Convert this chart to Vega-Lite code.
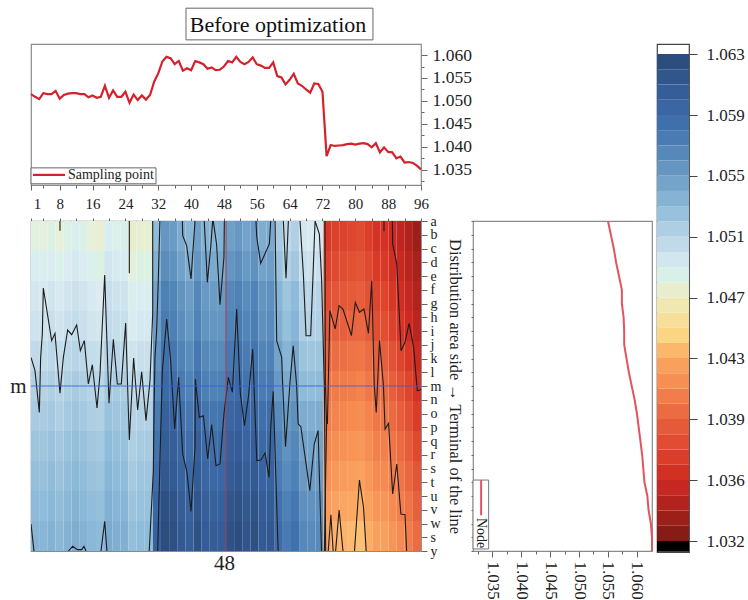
{"$schema":"https://vega.github.io/schema/vega-lite/v6.json","padding":{"left":9,"top":7,"right":0,"bottom":0},"background":"white","config":{"view":{"stroke":"#8a8a8a","strokeWidth":1.2},"font":"Liberation Serif","axis":{"grid":false,"domain":false,"title":null,"labelFont":"Liberation Serif","labelColor":"#222","tickColor":"#666","labelFlush":false,"labelOverlap":false,"labelBound":false}},
"datasets":{
"top":[{"c":1,"v":1.0515},{"c":2,"v":1.0509},{"c":3,"v":1.0504},{"c":4,"v":1.0517},{"c":5,"v":1.0515},{"c":6,"v":1.0515},{"c":7,"v":1.0522},{"c":8,"v":1.0505},{"c":9,"v":1.0513},{"c":10,"v":1.0516},{"c":11,"v":1.0517},{"c":12,"v":1.0517},{"c":13,"v":1.0515},{"c":14,"v":1.0515},{"c":15,"v":1.0508},{"c":16,"v":1.0512},{"c":17,"v":1.0507},{"c":18,"v":1.0509},{"c":19,"v":1.0533},{"c":20,"v":1.0507},{"c":21,"v":1.0523},{"c":22,"v":1.0509},{"c":23,"v":1.0509},{"c":24,"v":1.052},{"c":25,"v":1.0496},{"c":26,"v":1.0514},{"c":27,"v":1.0502},{"c":28,"v":1.0512},{"c":29,"v":1.0503},{"c":30,"v":1.0513},{"c":31,"v":1.0542},{"c":32,"v":1.056},{"c":33,"v":1.0586},{"c":34,"v":1.0596},{"c":35,"v":1.0593},{"c":36,"v":1.058},{"c":37,"v":1.0587},{"c":38,"v":1.0566},{"c":39,"v":1.0571},{"c":40,"v":1.0567},{"c":41,"v":1.0587},{"c":42,"v":1.0584},{"c":43,"v":1.058},{"c":44,"v":1.057},{"c":45,"v":1.0573},{"c":46,"v":1.0567},{"c":47,"v":1.0568},{"c":48,"v":1.0575},{"c":49,"v":1.0587},{"c":50,"v":1.0584},{"c":51,"v":1.0596},{"c":52,"v":1.0585},{"c":53,"v":1.058},{"c":54,"v":1.0585},{"c":55,"v":1.0595},{"c":56,"v":1.058},{"c":57,"v":1.0577},{"c":58,"v":1.0572},{"c":59,"v":1.0572},{"c":60,"v":1.0584},{"c":61,"v":1.0554},{"c":62,"v":1.0551},{"c":63,"v":1.0536},{"c":64,"v":1.0546},{"c":65,"v":1.0559},{"c":66,"v":1.0538},{"c":67,"v":1.0533},{"c":68,"v":1.0525},{"c":69,"v":1.0518},{"c":70,"v":1.0538},{"c":71,"v":1.0537},{"c":72,"v":1.052},{"c":73,"v":1.038},{"c":74,"v":1.0404},{"c":75,"v":1.0402},{"c":76,"v":1.0403},{"c":77,"v":1.0404},{"c":78,"v":1.0406},{"c":79,"v":1.0407},{"c":80,"v":1.0405},{"c":81,"v":1.0407},{"c":82,"v":1.0408},{"c":83,"v":1.0406},{"c":84,"v":1.0399},{"c":85,"v":1.0408},{"c":86,"v":1.0388},{"c":87,"v":1.0399},{"c":88,"v":1.0389},{"c":89,"v":1.0388},{"c":90,"v":1.0375},{"c":91,"v":1.0379},{"c":92,"v":1.0366},{"c":93,"v":1.0367},{"c":94,"v":1.0365},{"c":95,"v":1.0359},{"c":96,"v":1.0351}],
"node":[{"r":0,"v":1.055},{"r":1,"v":1.0555},{"r":2,"v":1.056},{"r":3,"v":1.0564},{"r":4,"v":1.0569},{"r":5,"v":1.0574},{"r":6,"v":1.0574},{"r":7,"v":1.0577},{"r":8,"v":1.0578},{"r":9,"v":1.0578},{"r":10,"v":1.0582},{"r":11,"v":1.0586},{"r":12,"v":1.0591},{"r":13,"v":1.0596},{"r":14,"v":1.06},{"r":15,"v":1.0603},{"r":16,"v":1.0606},{"r":17,"v":1.0609},{"r":18,"v":1.0611},{"r":19,"v":1.0613},{"r":20,"v":1.0618},{"r":21,"v":1.062},{"r":22,"v":1.0624},{"r":23,"v":1.0626},{"r":24,"v":1.0626}],
"bar":[{"lo":1.032,"hi":1.033,"v":1.0325},{"lo":1.033,"hi":1.034,"v":1.0335},{"lo":1.034,"hi":1.035,"v":1.0345},{"lo":1.035,"hi":1.036,"v":1.0355},{"lo":1.036,"hi":1.03675,"v":1.03638},{"lo":1.03675,"hi":1.0375,"v":1.03713},{"lo":1.0375,"hi":1.03825,"v":1.03788},{"lo":1.03825,"hi":1.039,"v":1.03863},{"lo":1.039,"hi":1.04,"v":1.0395},{"lo":1.04,"hi":1.041,"v":1.0405},{"lo":1.041,"hi":1.042,"v":1.0415},{"lo":1.042,"hi":1.043,"v":1.0425},{"lo":1.043,"hi":1.044,"v":1.0435},{"lo":1.044,"hi":1.045,"v":1.0445},{"lo":1.045,"hi":1.046,"v":1.0455},{"lo":1.046,"hi":1.047,"v":1.0465},{"lo":1.047,"hi":1.048,"v":1.0475},{"lo":1.048,"hi":1.049,"v":1.0485},{"lo":1.049,"hi":1.05,"v":1.0495},{"lo":1.05,"hi":1.051,"v":1.0505},{"lo":1.051,"hi":1.052,"v":1.0515},{"lo":1.052,"hi":1.053,"v":1.0525},{"lo":1.053,"hi":1.054,"v":1.0535},{"lo":1.054,"hi":1.055,"v":1.0545},{"lo":1.055,"hi":1.056,"v":1.0555},{"lo":1.056,"hi":1.057,"v":1.0565},{"lo":1.057,"hi":1.058,"v":1.0575},{"lo":1.058,"hi":1.059,"v":1.0585},{"lo":1.059,"hi":1.06,"v":1.0595},{"lo":1.06,"hi":1.061,"v":1.0605},{"lo":1.061,"hi":1.062,"v":1.0615},{"lo":1.062,"hi":1.063,"v":1.0625}],
"contour":[
{"id":"a","c":1,"r":9.92},{"id":"a","c":1.97,"r":10.88},{"id":"a","c":3.03,"r":13.92},{"id":"a","c":3.35,"r":9.92},{"id":"a","c":3.76,"r":8.22},{"id":"a","c":4,"r":4.87},{"id":"a","c":6.03,"r":8.7},{"id":"a","c":6.84,"r":8.17},{"id":"a","c":8.06,"r":12.53},{"id":"a","c":8.88,"r":9.92},{"id":"a","c":9.93,"r":7.93},{"id":"a","c":10.91,"r":8.27},{"id":"a","c":12.12,"r":7.56},{"id":"a","c":13.02,"r":9.43},{"id":"a","c":13.99,"r":8.7},{"id":"a","c":14.97,"r":11.85},{"id":"a","c":15.94,"r":10.45},{"id":"a","c":17.08,"r":13.6},{"id":"a","c":17.81,"r":11.13},{"id":"a","c":18.95,"r":3.93},{"id":"a","c":20,"r":13.26},{"id":"a","c":21.06,"r":8.61},{"id":"a","c":22.03,"r":11.85},{"id":"a","c":23,"r":11.85},{"id":"a","c":24.06,"r":7.42},{"id":"a","c":24.95,"r":15.93},{"id":"a","c":26,"r":9.96},{"id":"a","c":26.98,"r":13.75},{"id":"a","c":27.96,"r":10.96},{"id":"a","c":29.01,"r":14.52},{"id":"a","c":29.99,"r":11.61},{"id":"a","c":30.64,"r":6.76},{"id":"a","c":30.64,"r":0},
{"id":"b","c":32.4,"r":0},{"id":"b","c":32,"r":4.34},{"id":"b","c":31.6,"r":7.98},{"id":"b","c":31.2,"r":9.92},{"id":"b","c":31,"r":13.31},{"id":"b","c":30.8,"r":18.16},{"id":"b","c":29.8,"r":24},
{"id":"c","c":31.86,"r":24},{"id":"c","c":32.43,"r":17.19},{"id":"c","c":33,"r":10.88},{"id":"c","c":34.05,"r":7.13},{"id":"c","c":35.02,"r":10.16},{"id":"c","c":36,"r":15.13},{"id":"c","c":36.97,"r":11.37},{"id":"c","c":37.95,"r":16.95},{"id":"c","c":39,"r":18.28},{"id":"c","c":39.98,"r":21.12},{"id":"c","c":40.95,"r":16.46},{"id":"c","c":41.03,"r":11.49},{"id":"c","c":42,"r":14.28},{"id":"c","c":43,"r":14.16},{"id":"c","c":44.04,"r":17.31},{"id":"c","c":45,"r":14.81},{"id":"c","c":46.07,"r":17.8},{"id":"c","c":47.04,"r":17.67},{"id":"c","c":48,"r":14.04},{"id":"c","c":49.07,"r":11.37},{"id":"c","c":50.05,"r":12.46},{"id":"c","c":51.1,"r":6.4},{"id":"c","c":52,"r":12.58},{"id":"c","c":53,"r":14.89},{"id":"c","c":54,"r":12.7},{"id":"c","c":55,"r":9.31},{"id":"c","c":56,"r":17.43},{"id":"c","c":57,"r":17.38},{"id":"c","c":58,"r":16.87},{"id":"c","c":59,"r":18.64},{"id":"c","c":59.4,"r":15},{"id":"c","c":60,"r":12.39},{"id":"c","c":61.2,"r":24},
{"id":"d","c":37.87,"r":0},{"id":"d","c":37.95,"r":1.07},{"id":"d","c":38.92,"r":1.79},{"id":"d","c":39.98,"r":4.22},{"id":"d","c":40.95,"r":0},
{"id":"e","c":43.2,"r":0},{"id":"e","c":43.96,"r":4.46},{"id":"e","c":44.77,"r":1.92},{"id":"e","c":45.25,"r":0},
{"id":"f","c":45.4,"r":0},{"id":"f","c":46.2,"r":1.67},{"id":"f","c":47.04,"r":6.08},{"id":"f","c":48,"r":2.64},{"id":"f","c":48.1,"r":0},
{"id":"g","c":55.8,"r":0},{"id":"g","c":56,"r":1.19},{"id":"g","c":56.95,"r":3.08},{"id":"g","c":59.06,"r":1.67},{"id":"g","c":59.4,"r":0},
{"id":"h","c":62.47,"r":0},{"id":"h","c":63.12,"r":4.17},{"id":"h","c":63.69,"r":0},
{"id":"i","c":66.53,"r":0},{"id":"i","c":67.34,"r":3.85},{"id":"i","c":68,"r":8.34},{"id":"i","c":69.13,"r":8.34},{"id":"i","c":70.2,"r":0},{"id":"i","c":71.24,"r":0.95},{"id":"i","c":71.8,"r":4.34},{"id":"i","c":72.46,"r":12.1},{"id":"i","c":72.78,"r":24},
{"id":"j","c":72.62,"r":0},{"id":"j","c":72.7,"r":11.6},{"id":"j","c":73,"r":14.76},{"id":"j","c":72.46,"r":24},
{"id":"k","c":60.45,"r":0},{"id":"k","c":60.85,"r":8.7},{"id":"k","c":62.07,"r":9.92},{"id":"k","c":62.3,"r":11.85},{"id":"k","c":63,"r":16.41},{"id":"k","c":64.06,"r":11.85},{"id":"k","c":64.87,"r":9.07},{"id":"k","c":65.68,"r":11.85},{"id":"k","c":66.08,"r":14.76},{"id":"k","c":66.73,"r":14.96},{"id":"k","c":68.92,"r":19.61},{"id":"k","c":70,"r":16.22},{"id":"k","c":70.93,"r":15.24},{"id":"k","c":71.77,"r":24},
{"id":"l","c":73.2,"r":14.76},{"id":"l","c":73.8,"r":6.52},{"id":"l","c":75.1,"r":7.85},{"id":"l","c":76.05,"r":6.16},{"id":"l","c":77,"r":6.4},{"id":"l","c":79.05,"r":8.34},{"id":"l","c":80,"r":5.92},{"id":"l","c":81,"r":6.64},{"id":"l","c":82.1,"r":6.4},{"id":"l","c":83.2,"r":8.17},{"id":"l","c":84,"r":4.34},{"id":"l","c":84.6,"r":11.85},{"id":"l","c":85.1,"r":13.92},{"id":"l","c":85.9,"r":8.7},{"id":"l","c":86.85,"r":11.98},{"id":"l","c":87.25,"r":15.13},{"id":"l","c":88.1,"r":14.71},{"id":"l","c":89.1,"r":19.85},{"id":"l","c":90.1,"r":17.67},{"id":"l","c":91.1,"r":21.31},{"id":"l","c":92.1,"r":21.36},{"id":"l","c":92.5,"r":24},
{"id":"m","c":89.02,"r":0},{"id":"m","c":89.1,"r":1.67},{"id":"m","c":90.1,"r":3.13},{"id":"m","c":91.15,"r":9.43},{"id":"m","c":92.1,"r":8.82},{"id":"m","c":93.1,"r":7.44},{"id":"m","c":94.2,"r":9.19},{"id":"m","c":95.1,"r":12.34},{"id":"m","c":95.8,"r":12.29},{"id":"m","c":96,"r":12.2},
{"id":"n","c":86.98,"r":0},{"id":"n","c":86.98,"r":0.75},
{"id":"o","c":73.4,"r":24},{"id":"o","c":74.05,"r":21.36},{"id":"o","c":74.6,"r":24},
{"id":"p","c":75.2,"r":24},{"id":"p","c":76.05,"r":21.02},{"id":"p","c":77,"r":24},
{"id":"q","c":79.8,"r":24},{"id":"q","c":81,"r":18.84},{"id":"q","c":82,"r":20.82},{"id":"q","c":82.65,"r":24},
{"id":"s","c":8.06,"r":0},{"id":"s","c":8.06,"r":0.7},
{"id":"t","c":24.95,"r":0},{"id":"t","c":24.95,"r":3.8},
{"id":"u","c":1,"r":22.04},{"id":"u","c":1.73,"r":24},
{"id":"v","c":10.1,"r":24},{"id":"v","c":11.15,"r":23.66},{"id":"v","c":12.29,"r":23.9},{"id":"v","c":13.34,"r":23.9},{"id":"v","c":13.9,"r":23.66},{"id":"v","c":14.4,"r":24},
{"id":"w","c":18.05,"r":24},{"id":"w","c":18.95,"r":21.84},{"id":"w","c":19.5,"r":24}],
"heat":[
{"c":1,"r":0,"v":1.0482},{"c":1,"r":1,"v":1.0488},{"c":1,"r":2,"v":1.0494},{"c":1,"r":3,"v":1.0498},{"c":1,"r":4,"v":1.0505},{"c":1,"r":5,"v":1.0512},{"c":1,"r":6,"v":1.0517},{"c":1,"r":7,"v":1.0522},{"c":1,"r":8,"v":1.0526},{"c":1,"r":9,"v":1.053},{"c":1,"r":10,"v":1.0534},
{"c":2,"r":0,"v":1.0481},{"c":2,"r":1,"v":1.0487},{"c":2,"r":2,"v":1.0493},{"c":2,"r":3,"v":1.0497},{"c":2,"r":4,"v":1.0504},{"c":2,"r":5,"v":1.0511},{"c":2,"r":6,"v":1.0516},{"c":2,"r":7,"v":1.0521},{"c":2,"r":8,"v":1.0525},{"c":2,"r":9,"v":1.0529},{"c":2,"r":10,"v":1.0533},
{"c":3,"r":0,"v":1.0484},{"c":3,"r":1,"v":1.049},{"c":3,"r":2,"v":1.0496},{"c":3,"r":3,"v":1.05},{"c":3,"r":4,"v":1.0507},{"c":3,"r":5,"v":1.0514},{"c":3,"r":6,"v":1.0519},{"c":3,"r":7,"v":1.0524},{"c":3,"r":8,"v":1.0528},{"c":3,"r":9,"v":1.0532},{"c":3,"r":10,"v":1.0536},
{"c":4,"r":0,"v":1.048},{"c":4,"r":1,"v":1.0486},{"c":4,"r":2,"v":1.0492},{"c":4,"r":3,"v":1.0496},{"c":4,"r":4,"v":1.0503},{"c":4,"r":5,"v":1.051},{"c":4,"r":6,"v":1.0515},{"c":4,"r":7,"v":1.052},{"c":4,"r":8,"v":1.0524},{"c":4,"r":9,"v":1.0528},{"c":4,"r":10,"v":1.0532},
{"c":5,"r":0,"v":1.0484},{"c":5,"r":1,"v":1.049},{"c":5,"r":2,"v":1.0496},{"c":5,"r":3,"v":1.05},{"c":5,"r":4,"v":1.0507},{"c":5,"r":5,"v":1.0514},{"c":5,"r":6,"v":1.0519},{"c":5,"r":7,"v":1.0524},{"c":5,"r":8,"v":1.0528},{"c":5,"r":9,"v":1.0532},{"c":5,"r":10,"v":1.0536},
{"c":6,"r":0,"v":1.0487},{"c":6,"r":1,"v":1.0493},{"c":6,"r":2,"v":1.0499},{"c":6,"r":3,"v":1.0503},{"c":6,"r":4,"v":1.051},{"c":6,"r":5,"v":1.0517},{"c":6,"r":6,"v":1.0522},{"c":6,"r":7,"v":1.0527},{"c":6,"r":8,"v":1.0531},{"c":6,"r":9,"v":1.0535},{"c":6,"r":10,"v":1.0539},
{"c":7,"r":0,"v":1.0484},{"c":7,"r":1,"v":1.049},{"c":7,"r":2,"v":1.0496},{"c":7,"r":3,"v":1.05},{"c":7,"r":4,"v":1.0507},{"c":7,"r":5,"v":1.0514},{"c":7,"r":6,"v":1.0519},{"c":7,"r":7,"v":1.0524},{"c":7,"r":8,"v":1.0528},{"c":7,"r":9,"v":1.0532},{"c":7,"r":10,"v":1.0536},
{"c":8,"r":0,"v":1.048},{"c":8,"r":1,"v":1.0486},{"c":8,"r":2,"v":1.0492},{"c":8,"r":3,"v":1.0496},{"c":8,"r":4,"v":1.0503},{"c":8,"r":5,"v":1.051},{"c":8,"r":6,"v":1.0515},{"c":8,"r":7,"v":1.052},{"c":8,"r":8,"v":1.0524},{"c":8,"r":9,"v":1.0528},{"c":8,"r":10,"v":1.0532},
{"c":9,"r":0,"v":1.0478},{"c":9,"r":1,"v":1.0484},{"c":9,"r":2,"v":1.049},{"c":9,"r":3,"v":1.0494},{"c":9,"r":4,"v":1.0501},{"c":9,"r":5,"v":1.0508},{"c":9,"r":6,"v":1.0513},{"c":9,"r":7,"v":1.0518},{"c":9,"r":8,"v":1.0522},{"c":9,"r":9,"v":1.0526},{"c":9,"r":10,"v":1.053},
{"c":10,"r":0,"v":1.0489},{"c":10,"r":1,"v":1.0495},{"c":10,"r":2,"v":1.0501},{"c":10,"r":3,"v":1.0505},{"c":10,"r":4,"v":1.0512},{"c":10,"r":5,"v":1.0519},{"c":10,"r":6,"v":1.0524},{"c":10,"r":7,"v":1.0529},{"c":10,"r":8,"v":1.0533},{"c":10,"r":9,"v":1.0537},{"c":10,"r":10,"v":1.0541},
{"c":11,"r":0,"v":1.0486},{"c":11,"r":1,"v":1.0492},{"c":11,"r":2,"v":1.0498},{"c":11,"r":3,"v":1.0502},{"c":11,"r":4,"v":1.0509},{"c":11,"r":5,"v":1.0516},{"c":11,"r":6,"v":1.0521},{"c":11,"r":7,"v":1.0526},{"c":11,"r":8,"v":1.053},{"c":11,"r":9,"v":1.0534},{"c":11,"r":10,"v":1.0538},
{"c":12,"r":0,"v":1.0485},{"c":12,"r":1,"v":1.0491},{"c":12,"r":2,"v":1.0497},{"c":12,"r":3,"v":1.0501},{"c":12,"r":4,"v":1.0508},{"c":12,"r":5,"v":1.0515},{"c":12,"r":6,"v":1.052},{"c":12,"r":7,"v":1.0525},{"c":12,"r":8,"v":1.0529},{"c":12,"r":9,"v":1.0533},{"c":12,"r":10,"v":1.0537},
{"c":13,"r":0,"v":1.0475},{"c":13,"r":1,"v":1.0481},{"c":13,"r":2,"v":1.0487},{"c":13,"r":3,"v":1.0491},{"c":13,"r":4,"v":1.0498},{"c":13,"r":5,"v":1.0505},{"c":13,"r":6,"v":1.051},{"c":13,"r":7,"v":1.0515},{"c":13,"r":8,"v":1.0519},{"c":13,"r":9,"v":1.0523},{"c":13,"r":10,"v":1.0527},
{"c":14,"r":0,"v":1.0477},{"c":14,"r":1,"v":1.0483},{"c":14,"r":2,"v":1.0489},{"c":14,"r":3,"v":1.0493},{"c":14,"r":4,"v":1.05},{"c":14,"r":5,"v":1.0507},{"c":14,"r":6,"v":1.0512},{"c":14,"r":7,"v":1.0517},{"c":14,"r":8,"v":1.0521},{"c":14,"r":9,"v":1.0525},{"c":14,"r":10,"v":1.0529},
{"c":15,"r":0,"v":1.0477},{"c":15,"r":1,"v":1.0483},{"c":15,"r":2,"v":1.0489},{"c":15,"r":3,"v":1.0493},{"c":15,"r":4,"v":1.05},{"c":15,"r":5,"v":1.0507},{"c":15,"r":6,"v":1.0512},{"c":15,"r":7,"v":1.0517},{"c":15,"r":8,"v":1.0521},{"c":15,"r":9,"v":1.0525},{"c":15,"r":10,"v":1.0529},
{"c":16,"r":0,"v":1.0529},{"c":16,"r":1,"v":1.0536},{"c":16,"r":2,"v":1.0546},{"c":16,"r":3,"v":1.055},{"c":16,"r":4,"v":1.0558},{"c":16,"r":5,"v":1.0565},{"c":16,"r":6,"v":1.0575},{"c":16,"r":7,"v":1.0582},{"c":16,"r":8,"v":1.0587},{"c":16,"r":9,"v":1.0595},{"c":16,"r":10,"v":1.06},
{"c":17,"r":0,"v":1.0555},{"c":17,"r":1,"v":1.0562},{"c":17,"r":2,"v":1.0572},{"c":17,"r":3,"v":1.0576},{"c":17,"r":4,"v":1.0584},{"c":17,"r":5,"v":1.0591},{"c":17,"r":6,"v":1.0601},{"c":17,"r":7,"v":1.0608},{"c":17,"r":8,"v":1.0613},{"c":17,"r":9,"v":1.0621},{"c":17,"r":10,"v":1.0626},
{"c":18,"r":0,"v":1.0551},{"c":18,"r":1,"v":1.0558},{"c":18,"r":2,"v":1.0568},{"c":18,"r":3,"v":1.0572},{"c":18,"r":4,"v":1.058},{"c":18,"r":5,"v":1.0587},{"c":18,"r":6,"v":1.0597},{"c":18,"r":7,"v":1.0604},{"c":18,"r":8,"v":1.0609},{"c":18,"r":9,"v":1.0617},{"c":18,"r":10,"v":1.0622},
{"c":19,"r":0,"v":1.054},{"c":19,"r":1,"v":1.0547},{"c":19,"r":2,"v":1.0557},{"c":19,"r":3,"v":1.0561},{"c":19,"r":4,"v":1.0569},{"c":19,"r":5,"v":1.0576},{"c":19,"r":6,"v":1.0586},{"c":19,"r":7,"v":1.0593},{"c":19,"r":8,"v":1.0598},{"c":19,"r":9,"v":1.0606},{"c":19,"r":10,"v":1.0611},
{"c":20,"r":0,"v":1.0533},{"c":20,"r":1,"v":1.054},{"c":20,"r":2,"v":1.055},{"c":20,"r":3,"v":1.0554},{"c":20,"r":4,"v":1.0562},{"c":20,"r":5,"v":1.0569},{"c":20,"r":6,"v":1.0579},{"c":20,"r":7,"v":1.0586},{"c":20,"r":8,"v":1.0591},{"c":20,"r":9,"v":1.0599},{"c":20,"r":10,"v":1.0604},
{"c":21,"r":0,"v":1.0549},{"c":21,"r":1,"v":1.0556},{"c":21,"r":2,"v":1.0566},{"c":21,"r":3,"v":1.057},{"c":21,"r":4,"v":1.0578},{"c":21,"r":5,"v":1.0585},{"c":21,"r":6,"v":1.0595},{"c":21,"r":7,"v":1.0602},{"c":21,"r":8,"v":1.0607},{"c":21,"r":9,"v":1.0615},{"c":21,"r":10,"v":1.062},
{"c":22,"r":0,"v":1.0536},{"c":22,"r":1,"v":1.0543},{"c":22,"r":2,"v":1.0553},{"c":22,"r":3,"v":1.0557},{"c":22,"r":4,"v":1.0565},{"c":22,"r":5,"v":1.0572},{"c":22,"r":6,"v":1.0582},{"c":22,"r":7,"v":1.0589},{"c":22,"r":8,"v":1.0594},{"c":22,"r":9,"v":1.0602},{"c":22,"r":10,"v":1.0607},
{"c":23,"r":0,"v":1.0534},{"c":23,"r":1,"v":1.0541},{"c":23,"r":2,"v":1.0551},{"c":23,"r":3,"v":1.0555},{"c":23,"r":4,"v":1.0563},{"c":23,"r":5,"v":1.057},{"c":23,"r":6,"v":1.058},{"c":23,"r":7,"v":1.0587},{"c":23,"r":8,"v":1.0592},{"c":23,"r":9,"v":1.06},{"c":23,"r":10,"v":1.0605},
{"c":24,"r":0,"v":1.0535},{"c":24,"r":1,"v":1.0542},{"c":24,"r":2,"v":1.0552},{"c":24,"r":3,"v":1.0556},{"c":24,"r":4,"v":1.0564},{"c":24,"r":5,"v":1.0571},{"c":24,"r":6,"v":1.0581},{"c":24,"r":7,"v":1.0588},{"c":24,"r":8,"v":1.0593},{"c":24,"r":9,"v":1.0601},{"c":24,"r":10,"v":1.0606},
{"c":25,"r":0,"v":1.0549},{"c":25,"r":1,"v":1.0556},{"c":25,"r":2,"v":1.0566},{"c":25,"r":3,"v":1.057},{"c":25,"r":4,"v":1.0578},{"c":25,"r":5,"v":1.0585},{"c":25,"r":6,"v":1.0595},{"c":25,"r":7,"v":1.0602},{"c":25,"r":8,"v":1.0607},{"c":25,"r":9,"v":1.0615},{"c":25,"r":10,"v":1.062},
{"c":26,"r":0,"v":1.0554},{"c":26,"r":1,"v":1.0561},{"c":26,"r":2,"v":1.0571},{"c":26,"r":3,"v":1.0575},{"c":26,"r":4,"v":1.0583},{"c":26,"r":5,"v":1.059},{"c":26,"r":6,"v":1.06},{"c":26,"r":7,"v":1.0607},{"c":26,"r":8,"v":1.0612},{"c":26,"r":9,"v":1.062},{"c":26,"r":10,"v":1.0625},
{"c":27,"r":0,"v":1.0546},{"c":27,"r":1,"v":1.0553},{"c":27,"r":2,"v":1.0563},{"c":27,"r":3,"v":1.0567},{"c":27,"r":4,"v":1.0575},{"c":27,"r":5,"v":1.0582},{"c":27,"r":6,"v":1.0592},{"c":27,"r":7,"v":1.0599},{"c":27,"r":8,"v":1.0604},{"c":27,"r":9,"v":1.0612},{"c":27,"r":10,"v":1.0617},
{"c":28,"r":0,"v":1.0552},{"c":28,"r":1,"v":1.0559},{"c":28,"r":2,"v":1.0569},{"c":28,"r":3,"v":1.0573},{"c":28,"r":4,"v":1.0581},{"c":28,"r":5,"v":1.0588},{"c":28,"r":6,"v":1.0598},{"c":28,"r":7,"v":1.0605},{"c":28,"r":8,"v":1.061},{"c":28,"r":9,"v":1.0618},{"c":28,"r":10,"v":1.0623},
{"c":29,"r":0,"v":1.0539},{"c":29,"r":1,"v":1.0546},{"c":29,"r":2,"v":1.0556},{"c":29,"r":3,"v":1.056},{"c":29,"r":4,"v":1.0568},{"c":29,"r":5,"v":1.0575},{"c":29,"r":6,"v":1.0585},{"c":29,"r":7,"v":1.0592},{"c":29,"r":8,"v":1.0597},{"c":29,"r":9,"v":1.0605},{"c":29,"r":10,"v":1.061},
{"c":30,"r":0,"v":1.0542},{"c":30,"r":1,"v":1.0549},{"c":30,"r":2,"v":1.0559},{"c":30,"r":3,"v":1.0563},{"c":30,"r":4,"v":1.0571},{"c":30,"r":5,"v":1.0578},{"c":30,"r":6,"v":1.0588},{"c":30,"r":7,"v":1.0595},{"c":30,"r":8,"v":1.06},{"c":30,"r":9,"v":1.0608},{"c":30,"r":10,"v":1.0613},
{"c":31,"r":0,"v":1.0517},{"c":31,"r":1,"v":1.0524},{"c":31,"r":2,"v":1.0534},{"c":31,"r":3,"v":1.0538},{"c":31,"r":4,"v":1.0546},{"c":31,"r":5,"v":1.0553},{"c":31,"r":6,"v":1.0563},{"c":31,"r":7,"v":1.057},{"c":31,"r":8,"v":1.0575},{"c":31,"r":9,"v":1.0583},{"c":31,"r":10,"v":1.0588},
{"c":32,"r":0,"v":1.0505},{"c":32,"r":1,"v":1.0512},{"c":32,"r":2,"v":1.0522},{"c":32,"r":3,"v":1.0526},{"c":32,"r":4,"v":1.0534},{"c":32,"r":5,"v":1.0541},{"c":32,"r":6,"v":1.0551},{"c":32,"r":7,"v":1.0558},{"c":32,"r":8,"v":1.0563},{"c":32,"r":9,"v":1.0571},{"c":32,"r":10,"v":1.0576},
{"c":33,"r":0,"v":1.0513},{"c":33,"r":1,"v":1.052},{"c":33,"r":2,"v":1.053},{"c":33,"r":3,"v":1.0534},{"c":33,"r":4,"v":1.0542},{"c":33,"r":5,"v":1.0549},{"c":33,"r":6,"v":1.0559},{"c":33,"r":7,"v":1.0566},{"c":33,"r":8,"v":1.0571},{"c":33,"r":9,"v":1.0579},{"c":33,"r":10,"v":1.0584},
{"c":34,"r":0,"v":1.0494},{"c":34,"r":1,"v":1.0501},{"c":34,"r":2,"v":1.0511},{"c":34,"r":3,"v":1.0515},{"c":34,"r":4,"v":1.0523},{"c":34,"r":5,"v":1.053},{"c":34,"r":6,"v":1.054},{"c":34,"r":7,"v":1.0547},{"c":34,"r":8,"v":1.0552},{"c":34,"r":9,"v":1.056},{"c":34,"r":10,"v":1.0565},
{"c":35,"r":0,"v":1.0492},{"c":35,"r":1,"v":1.0499},{"c":35,"r":2,"v":1.0509},{"c":35,"r":3,"v":1.0513},{"c":35,"r":4,"v":1.0521},{"c":35,"r":5,"v":1.0528},{"c":35,"r":6,"v":1.0538},{"c":35,"r":7,"v":1.0545},{"c":35,"r":8,"v":1.055},{"c":35,"r":9,"v":1.0558},{"c":35,"r":10,"v":1.0563},
{"c":36,"r":0,"v":1.0493},{"c":36,"r":1,"v":1.05},{"c":36,"r":2,"v":1.051},{"c":36,"r":3,"v":1.0514},{"c":36,"r":4,"v":1.0522},{"c":36,"r":5,"v":1.0529},{"c":36,"r":6,"v":1.0539},{"c":36,"r":7,"v":1.0546},{"c":36,"r":8,"v":1.0551},{"c":36,"r":9,"v":1.0559},{"c":36,"r":10,"v":1.0564},
{"c":37,"r":0,"v":1.0369},{"c":37,"r":1,"v":1.0374},{"c":37,"r":2,"v":1.0379},{"c":37,"r":3,"v":1.0384},{"c":37,"r":4,"v":1.0392},{"c":37,"r":5,"v":1.0399},{"c":37,"r":6,"v":1.0405},{"c":37,"r":7,"v":1.0411},{"c":37,"r":8,"v":1.0417},{"c":37,"r":9,"v":1.0423},{"c":37,"r":10,"v":1.0429},
{"c":38,"r":0,"v":1.0373},{"c":38,"r":1,"v":1.0378},{"c":38,"r":2,"v":1.0383},{"c":38,"r":3,"v":1.0388},{"c":38,"r":4,"v":1.0396},{"c":38,"r":5,"v":1.0403},{"c":38,"r":6,"v":1.0409},{"c":38,"r":7,"v":1.0415},{"c":38,"r":8,"v":1.0421},{"c":38,"r":9,"v":1.0427},{"c":38,"r":10,"v":1.0433},
{"c":39,"r":0,"v":1.0374},{"c":39,"r":1,"v":1.0379},{"c":39,"r":2,"v":1.0384},{"c":39,"r":3,"v":1.0389},{"c":39,"r":4,"v":1.0397},{"c":39,"r":5,"v":1.0404},{"c":39,"r":6,"v":1.041},{"c":39,"r":7,"v":1.0416},{"c":39,"r":8,"v":1.0422},{"c":39,"r":9,"v":1.0428},{"c":39,"r":10,"v":1.0434},
{"c":40,"r":0,"v":1.0376},{"c":40,"r":1,"v":1.0381},{"c":40,"r":2,"v":1.0386},{"c":40,"r":3,"v":1.0391},{"c":40,"r":4,"v":1.0399},{"c":40,"r":5,"v":1.0406},{"c":40,"r":6,"v":1.0412},{"c":40,"r":7,"v":1.0418},{"c":40,"r":8,"v":1.0424},{"c":40,"r":9,"v":1.043},{"c":40,"r":10,"v":1.0436},
{"c":41,"r":0,"v":1.0378},{"c":41,"r":1,"v":1.0383},{"c":41,"r":2,"v":1.0388},{"c":41,"r":3,"v":1.0393},{"c":41,"r":4,"v":1.0401},{"c":41,"r":5,"v":1.0408},{"c":41,"r":6,"v":1.0414},{"c":41,"r":7,"v":1.042},{"c":41,"r":8,"v":1.0426},{"c":41,"r":9,"v":1.0432},{"c":41,"r":10,"v":1.0438},
{"c":42,"r":0,"v":1.0372},{"c":42,"r":1,"v":1.0377},{"c":42,"r":2,"v":1.0382},{"c":42,"r":3,"v":1.0387},{"c":42,"r":4,"v":1.0395},{"c":42,"r":5,"v":1.0402},{"c":42,"r":6,"v":1.0408},{"c":42,"r":7,"v":1.0414},{"c":42,"r":8,"v":1.042},{"c":42,"r":9,"v":1.0426},{"c":42,"r":10,"v":1.0432},
{"c":43,"r":0,"v":1.0365},{"c":43,"r":1,"v":1.037},{"c":43,"r":2,"v":1.0375},{"c":43,"r":3,"v":1.038},{"c":43,"r":4,"v":1.0388},{"c":43,"r":5,"v":1.0395},{"c":43,"r":6,"v":1.0401},{"c":43,"r":7,"v":1.0407},{"c":43,"r":8,"v":1.0413},{"c":43,"r":9,"v":1.0419},{"c":43,"r":10,"v":1.0425},
{"c":44,"r":0,"v":1.0365},{"c":44,"r":1,"v":1.037},{"c":44,"r":2,"v":1.0375},{"c":44,"r":3,"v":1.038},{"c":44,"r":4,"v":1.0388},{"c":44,"r":5,"v":1.0395},{"c":44,"r":6,"v":1.0401},{"c":44,"r":7,"v":1.0407},{"c":44,"r":8,"v":1.0413},{"c":44,"r":9,"v":1.0419},{"c":44,"r":10,"v":1.0425},
{"c":45,"r":0,"v":1.0358},{"c":45,"r":1,"v":1.0363},{"c":45,"r":2,"v":1.0368},{"c":45,"r":3,"v":1.0373},{"c":45,"r":4,"v":1.0381},{"c":45,"r":5,"v":1.0388},{"c":45,"r":6,"v":1.0394},{"c":45,"r":7,"v":1.04},{"c":45,"r":8,"v":1.0406},{"c":45,"r":9,"v":1.0412},{"c":45,"r":10,"v":1.0418},
{"c":46,"r":0,"v":1.0352},{"c":46,"r":1,"v":1.0357},{"c":46,"r":2,"v":1.0362},{"c":46,"r":3,"v":1.0367},{"c":46,"r":4,"v":1.0375},{"c":46,"r":5,"v":1.0382},{"c":46,"r":6,"v":1.0388},{"c":46,"r":7,"v":1.0394},{"c":46,"r":8,"v":1.04},{"c":46,"r":9,"v":1.0406},{"c":46,"r":10,"v":1.0412},
{"c":47,"r":0,"v":1.0345},{"c":47,"r":1,"v":1.035},{"c":47,"r":2,"v":1.0355},{"c":47,"r":3,"v":1.036},{"c":47,"r":4,"v":1.0368},{"c":47,"r":5,"v":1.0375},{"c":47,"r":6,"v":1.0381},{"c":47,"r":7,"v":1.0387},{"c":47,"r":8,"v":1.0393},{"c":47,"r":9,"v":1.0399},{"c":47,"r":10,"v":1.0405},
{"c":48,"r":0,"v":1.0335},{"c":48,"r":1,"v":1.034},{"c":48,"r":2,"v":1.0345},{"c":48,"r":3,"v":1.035},{"c":48,"r":4,"v":1.0358},{"c":48,"r":5,"v":1.0365},{"c":48,"r":6,"v":1.0371},{"c":48,"r":7,"v":1.0377},{"c":48,"r":8,"v":1.0383},{"c":48,"r":9,"v":1.0389},{"c":48,"r":10,"v":1.0395}]
},
"spacing":-1,
"hconcat":[
{"spacing":1,"vconcat":[
{"width":390,"height":141,
"title":{"text":"Before optimization","font":"Liberation Serif","fontSize":22,"fontWeight":"normal","color":"#111","anchor":"middle","dx":52,"offset":-29},
"resolve":{"axis":{"x":"independent","y":"independent"}},
"layer":[
{"data":{"name":"top"},"mark":{"type":"line","strokeWidth":2.2,"stroke":"#d3222c"},
"encoding":{"x":{"field":"c","type":"quantitative","scale":{"domain":[1,96],"nice":false,"zero":false},"axis":{"orient":"bottom","values":[1,8,16,24,32,40,48,56,64,72,80,88,96],"labelFontSize":15,"tickSize":5,"labelPadding":6,"labelOffset":{"expr":"datum.value==1?6:0"}}},
"y":{"field":"v","type":"quantitative","scale":{"domain":[1.0317,1.0624],"nice":false,"zero":false},"axis":{"orient":"right","values":[1.035,1.04,1.045,1.05,1.055,1.06],"format":".3f","labelFontSize":17.5,"tickSize":6,"labelPadding":5}}}},
{"data":{"values":[{"c0":38.76,"c1":84.3,"v0":1.0633,"v1":1.0702}]},"mark":{"type":"rect","fill":null,"stroke":"#666","strokeWidth":1},
"encoding":{"x":{"field":"c0","type":"quantitative","scale":{"domain":[1,96],"nice":false,"zero":false},"axis":{"orient":"bottom","values":[4,12,20,28,36,44,52,60,68,76,84,92],"labels":false,"tickSize":3}},"x2":{"field":"c1"},
"y":{"field":"v0","type":"quantitative","scale":{"domain":[1.0317,1.0624],"nice":false,"zero":false},"axis":{"orient":"right","values":[1.0325,1.0375,1.0425,1.0475,1.0525,1.0575],"labels":false,"tickSize":3}},"y2":{"field":"v1"}}},
{"data":{"values":[{"c0":1,"c1":31.45,"v0":1.03196,"v1":1.03543}]},"mark":{"type":"rect","fill":"white","stroke":"#666","strokeWidth":1},
"encoding":{"x":{"field":"c0","type":"quantitative","scale":{"domain":[1,96],"nice":false,"zero":false},"axis":null},"x2":{"field":"c1"},"y":{"field":"v0","type":"quantitative","scale":{"domain":[1.0317,1.0624],"nice":false,"zero":false},"axis":null},"y2":{"field":"v1"}}},
{"data":{"values":[{"c0":1.49,"c1":9.28,"v":1.0339}]},"mark":{"type":"rule","stroke":"#d3222c","strokeWidth":2.2},
"encoding":{"x":{"field":"c0","type":"quantitative","scale":{"domain":[1,96],"nice":false,"zero":false},"axis":null},"x2":{"field":"c1"},"y":{"field":"v","type":"quantitative","scale":{"domain":[1.0317,1.0624],"nice":false,"zero":false},"axis":null}}},
{"data":{"values":[{"c":10,"v":1.0339,"t":"Sampling point"}]},"mark":{"type":"text","font":"Liberation Serif","fontSize":14,"color":"#222","align":"left","baseline":"middle"},
"encoding":{"x":{"field":"c","type":"quantitative","scale":{"domain":[1,96],"nice":false,"zero":false},"axis":null},"y":{"field":"v","type":"quantitative","scale":{"domain":[1.0317,1.0624],"nice":false,"zero":false},"axis":null},"text":{"field":"t"}}}
]},
{"spacing":5,"hconcat":[
{"width":390,"height":330,
"resolve":{"scale":{"x":"independent","y":"independent"},"axis":{"x":"independent","y":"independent"}},
"layer":[
{"data":{"name":"heat"},"mark":{"type":"rect"},
"encoding":{"x":{"field":"c","type":"ordinal","axis":null,"scale":{"paddingInner":0,"paddingOuter":0}},"y":{"field":"r","type":"ordinal","axis":null,"scale":{"paddingInner":0,"paddingOuter":0}},
"color":{"field":"v","type":"quantitative","legend":null,"scale":{"domain":[1.032,1.034,1.036,1.037,1.039,1.041,1.043,1.0445,1.046,1.048,1.049,1.051,1.053,1.055,1.057,1.059,1.061,1.063],"range":["#7a1a14","#a8211c","#cf2a22","#d93a28","#e8623f","#f5864f","#fba863","#fcd583","#f6e3a4","#e8f0da","#dcecf2","#b7d4e6","#8dbbd9","#6d9dc6","#4f82b6","#3c6aa8","#335a93","#2a4a78"]}}}},
{"data":{"name":"contour"},"mark":{"type":"line","order":false,"stroke":"#1c1c1c","strokeWidth":1.1,"clip":true},
"encoding":{"detail":{"field":"id"},"x":{"field":"c","type":"quantitative","scale":{"domain":[1,96],"nice":false,"zero":false},"axis":{"orient":"top","values":[1,4,8,12,16,20,24,28,32,36,40,44,48,52,56,60,64,68,72,76,80,84,88,92,96],"labels":false,"tickSize":3}},
"y":{"field":"r","type":"quantitative","scale":{"domain":[0,24],"reverse":true,"nice":false,"zero":false},"axis":{"orient":"right","values":[0,1,2,3,4,5,6,7,8,9,10,11,12,13,14,15,16,17,18,19,20,21,22,23,24],"labelExpr":"['a','b','c','d','e','f','g','h','i','j','k','l','m','n','o','p','q','r','s','t','u','v','w','s','y'][datum.value]","labelFontSize":14,"tickSize":6,"labelPadding":3,"title":"Distribution area side → Terminal of the line","titleFont":"Liberation Serif","titleFontSize":16.4,"titleFontWeight":"normal","titleColor":"#222","titlePadding":6}}}},
{"data":{"values":[{"r":12}]},"mark":{"type":"rule","stroke":"#3a5fe0","strokeWidth":1.2,"opacity":0.85},
"encoding":{"y":{"field":"r","type":"quantitative","scale":{"domain":[0,24],"reverse":true,"nice":false,"zero":false},"axis":{"orient":"left","values":[12],"labelExpr":"'m'","labelFontSize":21,"ticks":false,"labelPadding":5}}}},
{"data":{"values":[{"c":48.5}]},"mark":{"type":"rule","stroke":"#a8404f","strokeWidth":1.2,"opacity":0.85},
"encoding":{"x":{"field":"c","type":"quantitative","scale":{"domain":[1,96],"nice":false,"zero":false},"axis":{"orient":"bottom","values":[48],"labelExpr":"'48'","labelFontSize":21,"ticks":false,"labelPadding":1}}}}
]},
{"width":179,"height":330,
"resolve":{"axis":{"x":"independent","y":"independent"}},
"layer":[
{"data":{"name":"node"},"mark":{"type":"line","order":false,"stroke":"#e0565c","strokeWidth":2},
"encoding":{"x":{"field":"v","type":"quantitative","scale":{"domain":[1.0317,1.0626],"nice":false,"zero":false},"axis":{"orient":"bottom","values":[1.035,1.04,1.045,1.05,1.055,1.06],"format":".3f","labelFontSize":17,"labelAngle":90,"labelAlign":"left","labelBaseline":"middle","tickSize":6,"labelPadding":4}},
"y":{"field":"r","type":"quantitative","scale":{"domain":[0,24],"reverse":true,"nice":false,"zero":false},"axis":{"orient":"left","values":[0,1,2,3,4,5,6,7,8,9,10,11,12,13,14,15,16,17,18,19,20,21,22,23,24],"labels":false,"tickSize":2}}}},
{"data":{"values":[{"v0":1.0317,"v1":1.0344,"r0":18.84,"r1":23.85}]},"mark":{"type":"rect","fill":"white","stroke":"#777","strokeWidth":1},
"encoding":{"x":{"field":"v0","type":"quantitative","scale":{"domain":[1.0317,1.0626],"nice":false,"zero":false},"axis":{"orient":"bottom","values":[1.0325,1.0375,1.0425,1.0475,1.0525,1.0575],"labels":false,"tickSize":3}},"x2":{"field":"v1"},"y":{"field":"r0","type":"quantitative","scale":{"domain":[0,24],"reverse":true,"nice":false,"zero":false},"axis":null},"y2":{"field":"r1"}}},
{"data":{"values":[{"v":1.0331,"r0":18.84,"r1":21.4}]},"mark":{"type":"rule","stroke":"#e0565c","strokeWidth":2},
"encoding":{"x":{"field":"v","type":"quantitative","scale":{"domain":[1.0317,1.0626],"nice":false,"zero":false},"axis":null},"y":{"field":"r0","type":"quantitative","scale":{"domain":[0,24],"reverse":true,"nice":false,"zero":false},"axis":null},"y2":{"field":"r1"}}},
{"data":{"values":[{"v":1.0331,"r":22.7,"t":"Node"}]},"mark":{"type":"text","angle":90,"font":"Liberation Serif","fontSize":14,"color":"#222","align":"center","baseline":"middle"},
"encoding":{"x":{"field":"v","type":"quantitative","scale":{"domain":[1.0317,1.0626],"nice":false,"zero":false},"axis":null},"y":{"field":"r","type":"quantitative","scale":{"domain":[0,24],"reverse":true,"nice":false,"zero":false},"axis":null},"text":{"field":"t"}}}
]}
]}
]},
{"width":32,"height":508,"view":{"stroke":"#444","strokeWidth":1.2},
"resolve":{"axis":{"y":"independent"}},
"layer":[
{"data":{"name":"bar"},"mark":{"type":"rect"},
"encoding":{"y":{"field":"lo","type":"quantitative","scale":{"domain":[1.032,1.036,1.039,1.043,1.047,1.051,1.055,1.059,1.063],"range":[497,436,375,314,253.7,192.7,131.7,71,10]},"axis":{"orient":"right","values":[1.032,1.036,1.039,1.043,1.047,1.051,1.055,1.059,1.063],"format":".3f","labelFontSize":17,"tickSize":8,"tickColor":"#444","labelPadding":9}},"y2":{"field":"hi"},
"color":{"field":"v","type":"quantitative","legend":null,"scale":{"domain":[1.032,1.034,1.036,1.037,1.039,1.041,1.043,1.0445,1.046,1.048,1.049,1.051,1.053,1.055,1.057,1.059,1.061,1.063],"range":["#7a1a14","#a8211c","#cf2a22","#d93a28","#e8623f","#f5864f","#fba863","#fcd583","#f6e3a4","#e8f0da","#dcecf2","#b7d4e6","#8dbbd9","#6d9dc6","#4f82b6","#3c6aa8","#335a93","#2a4a78"]}}}},
{"data":{"values":[{"lo":1.0313,"hi":1.032}]},"mark":{"type":"rect","fill":"#000"},"encoding":{"y":{"field":"lo","type":"quantitative","scale":{"domain":[1.032,1.036,1.039,1.043,1.047,1.051,1.055,1.059,1.063],"range":[497,436,375,314,253.7,192.7,131.7,71,10]},"axis":null},"y2":{"field":"hi"}}}
]}
]}
